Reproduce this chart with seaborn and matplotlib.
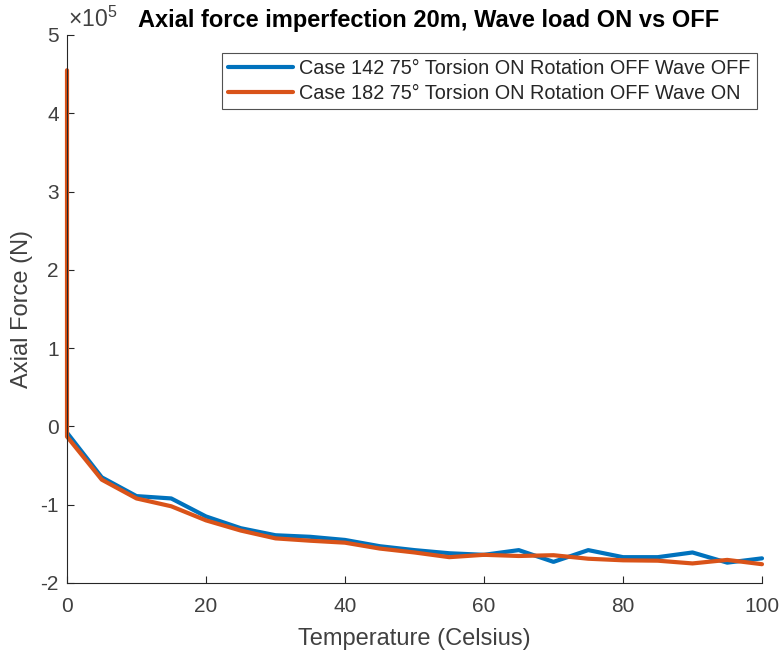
import numpy as np
import pandas as pd
import matplotlib
matplotlib.use("Agg")
import matplotlib.pyplot as plt
import seaborn as sns
from matplotlib.ticker import FuncFormatter

# Temperature steps (Celsius)
temp_off = [0, 5, 10, 15, 20, 25, 30, 35, 40, 45, 50, 55, 60, 65, 70, 75, 80, 85, 90, 95, 100]
temp_on = [0, 0, 5, 10, 15, 20, 25, 30, 35, 40, 45, 50, 55, 60, 65, 70, 75, 80, 85, 90, 95, 100]

# Axial force (N)
force_off = [-0.08e5, -0.65e5, -0.89e5, -0.92e5, -1.15e5, -1.30e5, -1.39e5, -1.41e5, -1.45e5,
             -1.53e5, -1.58e5, -1.62e5, -1.64e5, -1.58e5, -1.73e5, -1.58e5, -1.67e5, -1.67e5,
             -1.61e5, -1.74e5, -1.685e5]
force_on = [4.55e5, -0.13e5, -0.68e5, -0.92e5, -1.02e5, -1.20e5, -1.33e5, -1.43e5, -1.46e5,
            -1.485e5, -1.56e5, -1.61e5, -1.67e5, -1.64e5, -1.655e5, -1.645e5, -1.69e5, -1.71e5,
            -1.715e5, -1.75e5, -1.705e5, -1.76e5]

label_off = "Case 142 75° Torsion ON Rotation OFF Wave OFF"
label_on = "Case 182 75° Torsion ON Rotation OFF Wave ON"

df_off = pd.DataFrame({"Temperature": temp_off, "Force": force_off})
df_on = pd.DataFrame({"Temperature": temp_on, "Force": force_on})

sns.set_theme(style="white")
plt.rcParams["font.family"] = ["Liberation Sans", "DejaVu Sans"]
plt.rcParams["axes.unicode_minus"] = False
plt.rcParams["mathtext.fontset"] = "custom"
plt.rcParams["mathtext.rm"] = "Liberation Sans"

fig = plt.figure(figsize=(7.83, 6.53), dpi=100)
ax = fig.add_axes([67 / 783, 1 - 583 / 653, (762 - 67) / 783, (583 - 35) / 653])

sns.lineplot(data=df_off, x="Temperature", y="Force", ax=ax, sort=False, estimator=None,
             color="#0072BD", linewidth=3, label=label_off)
sns.lineplot(data=df_on, x="Temperature", y="Force", ax=ax, sort=False, estimator=None,
             color="#D95319", linewidth=3, label=label_on)
for line in ax.get_lines():
    line.set_clip_on(False)

ax.set_xlim(0, 100)
ax.set_ylim(-2e5, 5e5)
ax.set_xticks([0, 20, 40, 60, 80, 100])
ax.set_yticks(np.arange(-2, 6) * 1e5)

# y ticks shown in units of 1e5 with a common exponent label above the axis
ax.yaxis.set_major_formatter(FuncFormatter(lambda v, _: f"{v / 1e5:g}"))
ax.text(0.0015, 1.005, r"$\times\mathdefault{10^{5}}$", transform=ax.transAxes,
        fontsize=16.5, color="#404040", ha="left", va="bottom")

for side in ["top", "right"]:
    ax.spines[side].set_visible(False)
for side in ["left", "bottom"]:
    ax.spines[side].set_color("#262626")
    ax.spines[side].set_linewidth(0.8)

ax.tick_params(axis="both", direction="in", length=5, width=0.8, colors="#262626",
               labelsize=15, labelcolor="#404040", bottom=True, left=True)
ax.tick_params(axis="x", pad=10)
ax.tick_params(axis="y", pad=6)

ax.set_xlabel("Temperature (Celsius)", fontsize=17, color="#404040", labelpad=9)
ax.set_ylabel("Axial Force (N)", fontsize=17, color="#404040", labelpad=5)
ax.set_title("Axial force imperfection 20m, Wave load ON vs OFF", fontsize=17,
             fontweight="bold", color="black", pad=6, x=0.52)

leg = ax.legend(loc="upper right", fontsize=14.3, frameon=True, fancybox=False,
                edgecolor="#262626", handlelength=3.3, handletextpad=0.3,
                borderpad=0.3, borderaxespad=0, labelspacing=0.3,
                bbox_to_anchor=(0.9925, 0.967))
leg.get_frame().set_linewidth(0.8)
for line in leg.get_lines():
    line.set_linewidth(3)

fig.savefig("out.png", dpi=100)
